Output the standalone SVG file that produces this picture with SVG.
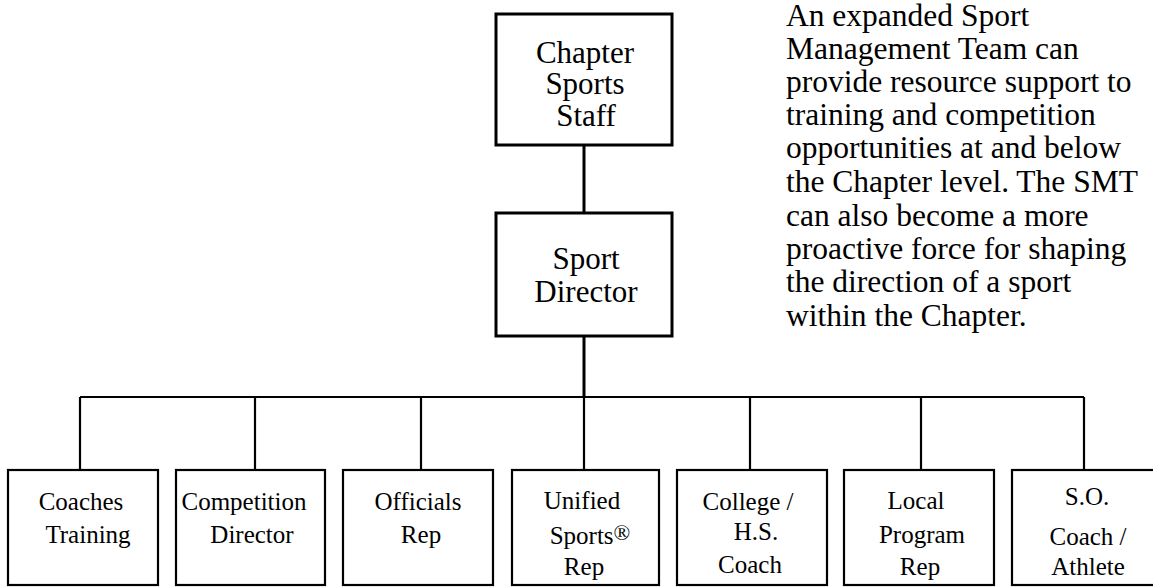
<svg xmlns="http://www.w3.org/2000/svg" width="1153" height="587" viewBox="0 0 1153 587">
<style>
  .box { fill: #fff; stroke: #000; stroke-width: 3; }
  .sbox { fill: #fff; stroke: #000; stroke-width: 2.2; }
  .conn { fill: none; stroke: #000; stroke-width: 2.2; }
  text { font-family: 'Liberation Serif', Tinos, 'Times New Roman', 'DejaVu Serif', serif; fill: #000; }
  .big { font-size: 31px; text-anchor: middle; }
  .small { font-size: 25px; text-anchor: middle; }
  .para { font-size: 31.5px; }
</style>
<rect width="1153" height="587" fill="#fff"/>
<g id="connectors">
  <line class="conn" x1="584" y1="145" x2="584" y2="213" style="stroke-width:3"/>
  <line class="conn" x1="584" y1="336" x2="584" y2="397" style="stroke-width:3"/>
  <line class="conn" x1="80" y1="397" x2="1084" y2="397"/>
  <line class="conn" x1="80" y1="397" x2="80" y2="470"/>
  <line class="conn" x1="255" y1="397" x2="255" y2="470"/>
  <line class="conn" x1="421" y1="397" x2="421" y2="470"/>
  <line class="conn" x1="584" y1="397" x2="584" y2="470"/>
  <line class="conn" x1="750" y1="397" x2="750" y2="470"/>
  <line class="conn" x1="921" y1="397" x2="921" y2="470"/>
  <line class="conn" x1="1084" y1="397" x2="1084" y2="470"/>
</g>
<g id="chapter-sports-staff">
  <rect class="box" x="496" y="14" width="176" height="131"/>
  <text class="big" x="585" y="63">Chapter</text>
  <text class="big" x="585" y="94">Sports</text>
  <text class="big" x="586" y="126">Staff</text>
</g>
<g id="sport-director">
  <rect class="box" x="496" y="213" width="176" height="123"/>
  <text class="big" x="586" y="269">Sport</text>
  <text class="big" x="586" y="302">Director</text>
</g>
<g id="coaches-training">
  <rect class="sbox" x="8" y="470" width="150" height="115"/>
  <text class="small" x="81" y="510">Coaches</text>
  <text class="small" x="88" y="543">Training</text>
</g>
<g id="competition-director">
  <rect class="sbox" x="176" y="470" width="149" height="115"/>
  <text class="small" x="244" y="510">Competition</text>
  <text class="small" x="252" y="543">Director</text>
</g>
<g id="officials-rep">
  <rect class="sbox" x="343" y="470" width="150" height="115"/>
  <text class="small" x="418" y="510">Officials</text>
  <text class="small" x="421" y="543">Rep</text>
</g>
<g id="unified-sports-rep">
  <rect class="sbox" x="512" y="470" width="147" height="115"/>
  <text class="small" x="582" y="509">Unified</text>
  <text class="small" x="590" y="544">Sports<tspan font-size="22" dy="-4">®</tspan></text>
  <text class="small" x="584" y="575">Rep</text>
</g>
<g id="college-hs-coach">
  <rect class="sbox" x="677" y="470" width="150" height="115"/>
  <text class="small" x="748" y="510">College /</text>
  <text class="small" x="756" y="540">H.S.</text>
  <text class="small" x="750" y="573">Coach</text>
</g>
<g id="local-program-rep">
  <rect class="sbox" x="844" y="470" width="150" height="115"/>
  <text class="small" x="916" y="509">Local</text>
  <text class="small" x="922" y="543">Program</text>
  <text class="small" x="920" y="575">Rep</text>
</g>
<g id="so-coach-athlete">
  <rect class="sbox" x="1012" y="470" width="150" height="115"/>
  <text class="small" x="1087" y="505">S.O.</text>
  <text class="small" x="1088" y="545">Coach /</text>
  <text class="small" x="1088" y="575">Athlete</text>
</g>
<g id="description">
  <text class="para" x="786" y="26">An expanded Sport</text>
  <text class="para" x="786" y="59">Management Team can</text>
  <text class="para" x="786" y="92">provide resource support to</text>
  <text class="para" x="786" y="125">training and competition</text>
  <text class="para" x="786" y="158">opportunities at and below</text>
  <text class="para" x="786" y="192">the Chapter level. The SMT</text>
  <text class="para" x="786" y="226">can also become a more</text>
  <text class="para" x="786" y="259">proactive force for shaping</text>
  <text class="para" x="786" y="292">the direction of a sport</text>
  <text class="para" x="786" y="326">within the Chapter.</text>
</g>
</svg>
